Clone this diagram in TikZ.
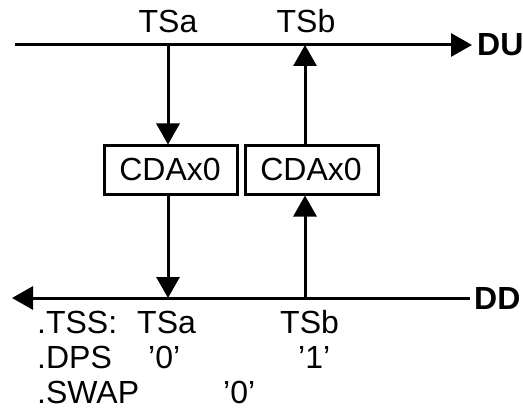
\documentclass[tikz,border=0pt]{standalone}
\usepackage{fontspec}
\setmainfont{Liberation Sans}
\usetikzlibrary{arrows.meta}
\begin{document}
\begin{tikzpicture}[x=1pt,y=-1pt,
  every node/.style={font=\fontsize{32}{38}\selectfont, inner sep=0pt},
  ln/.style={line width=3pt},
  arr/.style={ln, -{Triangle[length=21pt,width=23pt]}},
  cbox/.style={draw, line width=3pt, minimum width=133pt, minimum height=48pt},
  lbl/.style={anchor=base west}]
\useasboundingbox (0,0) rectangle (523,412);
% top line
\coordinate (tl) at (15,45);
\node[anchor=west, font=\fontsize{32}{38}\selectfont\bfseries] (du) at (477,45) {DU};
\coordinate (tr) at (472,45);
\draw[arr] (tl) -- (tr);
\node[anchor=base] (tsa) at (168,33) {TSa};
\node[anchor=base] (tsb) at (306,33) {TSb};
% boxes
\node[cbox] (b1) at (170.5,170) {};
\node[anchor=base] at (170,181) {CDAx0};
\node[cbox] (b2) at (312,170) {};
\node[anchor=base] at (311,181) {CDAx0};
% bottom line
\coordinate (br) at (470,298);
\coordinate (bl) at (12,298);
\node[anchor=west, font=\fontsize{32}{38}\selectfont\bfseries] (dd) at (474,298) {DD};
\draw[arr] (br) -- (bl);
% vertical arrows
\coordinate (ta) at (168,45);
\coordinate (tb) at (305,45);
\coordinate (ba) at (168,298);
\coordinate (bb) at (305,298);
\draw[arr] (ta) -- (ta |- b1.north);
\draw[arr] (ta |- b1.south) -- (ba);
\draw[arr] (bb) -- (bb |- b2.south);
\draw[arr] (tb |- b2.north) -- (tb);
% bottom text
\node[lbl] (r1) at (37,333) {.TSS:};
\node[lbl] (r1a) at (137,333) {TSa};
\node[lbl] (r1b) at (280,333) {TSb};
\node[lbl] (r2) at (37,368) {.DPS};
\node[lbl] (r2a) at (148,368) {’0’};
\node[lbl] (r2b) at (298,368) {’1’};
\node[lbl] (r3) at (37,403) {.SWAP};
\node[lbl] (r3a) at (223,403) {’0’};
\end{tikzpicture}
\end{document}
